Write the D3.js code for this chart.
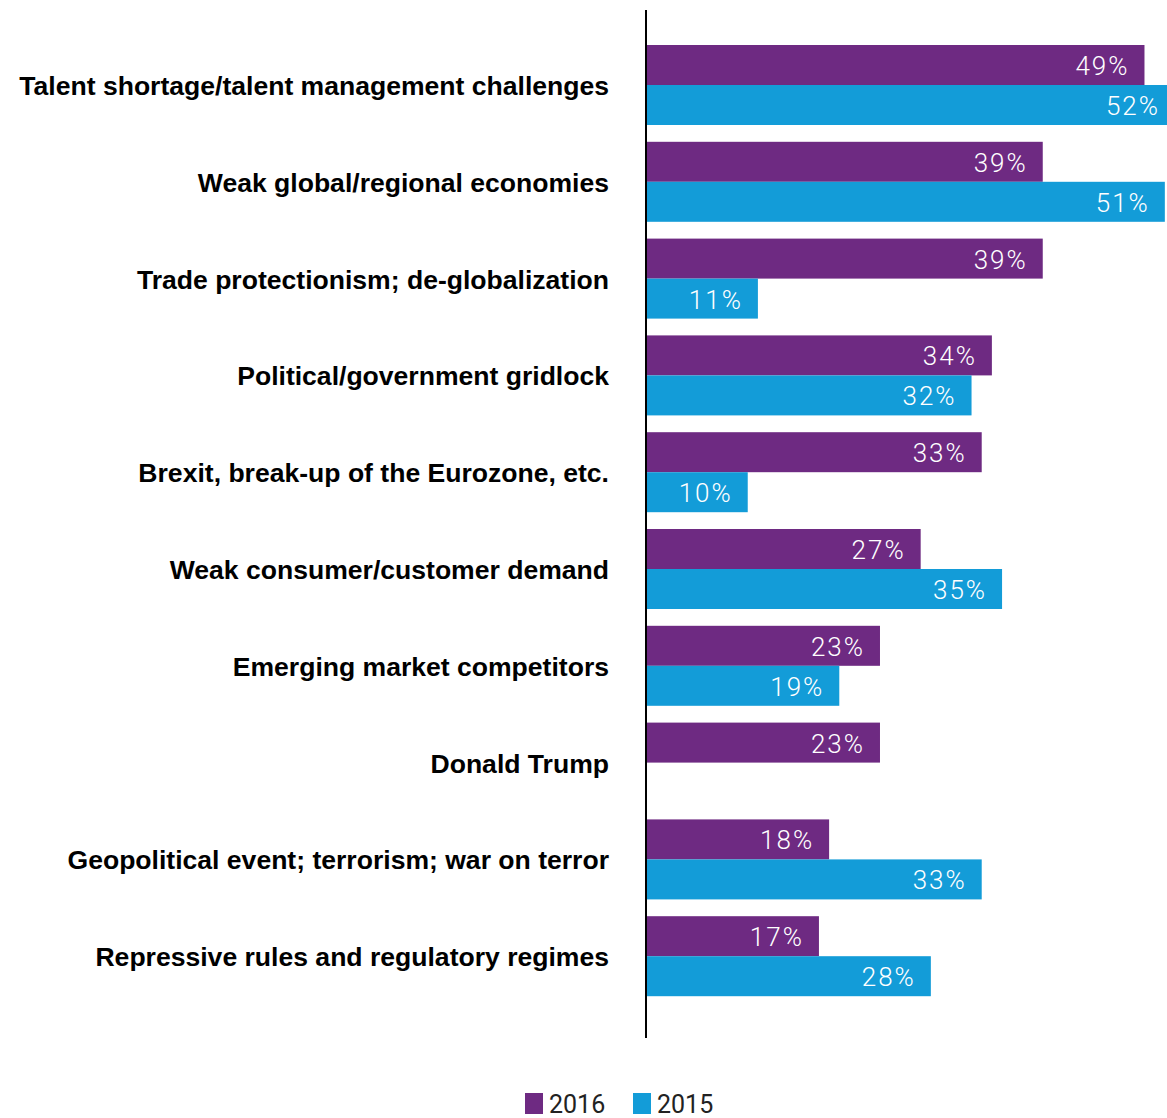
<!DOCTYPE html>
<html><head><meta charset="utf-8">
<script src="https://cdn.jsdelivr.net/npm/d3@7"></script>
<style>
html,body{margin:0;padding:0;background:#fff;overflow:hidden}
</style></head>
<body>
<svg id="c" width="1167" height="1118"></svg>
<script>
const categories = [
  "Talent shortage/talent management challenges",
  "Weak global/regional economies",
  "Trade protectionism; de-globalization",
  "Political/government gridlock",
  "Brexit, break-up of the Eurozone, etc.",
  "Weak consumer/customer demand",
  "Emerging market competitors",
  "Donald Trump",
  "Geopolitical event; terrorism; war on terror",
  "Repressive rules and regulatory regimes"
];
const series = ["2016", "2015"];
const values2016 = [49, 39, 39, 34, 33, 27, 23, 23, 18, 17];
const values2015 = [52, 51, 11, 32, 10, 35, 19, null, 33, 28];
const colors = ["#6e2a82", "#139cd8"];

const svg = d3.select("#c");
const x = d3.scaleLinear().domain([0, 52]).range([646, 1175]);
const y = d3.scaleBand().domain(categories).range([45, 996.2]).paddingInner(0.1736).paddingOuter(0);
const ys = d3.scaleBand().domain(series).range([0, y.bandwidth()]);
const color = d3.scaleOrdinal().domain(series).range(colors);

const rows = [];
categories.forEach((c, i) => {
  [values2016[i], values2015[i]].forEach((v, j) => {
    if (v != null) rows.push({cat: c, s: series[j], v});
  });
});

svg.append("g").selectAll("rect").data(rows).join("rect")
  .attr("x", x(0))
  .attr("y", d => y(d.cat) + ys(d.s))
  .attr("width", d => x(d.v) - x(0))
  .attr("height", ys.bandwidth())
  .attr("fill", d => color(d.s));

svg.append("g").selectAll("text").data(rows).join("text")
  .attr("x", d => x(d.v) - 15)
  .attr("y", d => y(d.cat) + ys(d.s) + ys.bandwidth() / 2 + 10)
  .attr("text-anchor", "end")
  .attr("fill", "#fff")
  .style("font-family", "Roboto, 'Liberation Sans', sans-serif")
  .style("font-weight", 300)
  .style("font-size", "26px")
  .style("letter-spacing", "2px")
  .text(d => d.v + "%");

// axis line
svg.append("line")
  .attr("x1", x(0)).attr("x2", x(0))
  .attr("y1", 10).attr("y2", 1038)
  .attr("stroke", "#000").attr("stroke-width", 2);

// category labels
const lab = svg.append("g").selectAll("text").data(categories).join("text")
  .attr("text-anchor", "end")
  .attr("fill", "#000")
  .style("font-family", "'Liberation Sans', Arial, sans-serif")
  .style("font-weight", "bold")
  .style("font-size", "25px")
  .text(d => d);
const w0 = lab.node().getComputedTextLength();
const sx = 590 / w0;
lab.attr("transform", d => `translate(609,${y(d) + y.bandwidth() / 2 + 10}) scale(${sx},1)`);

// legend
const leg = svg.append("g").selectAll("g").data(series).join("g")
  .attr("transform", (d, i) => `translate(${525 + i * 108},1093)`);
leg.append("rect").attr("width", 18).attr("height", 21).attr("fill", d => color(d));
leg.append("text").attr("x", 24).attr("y", 20)
  .style("font-family", "Roboto, 'Liberation Sans', sans-serif")
  .style("font-size", "25px")
  .attr("fill", "#222")
  .text(d => d);
</script>
</body></html>
